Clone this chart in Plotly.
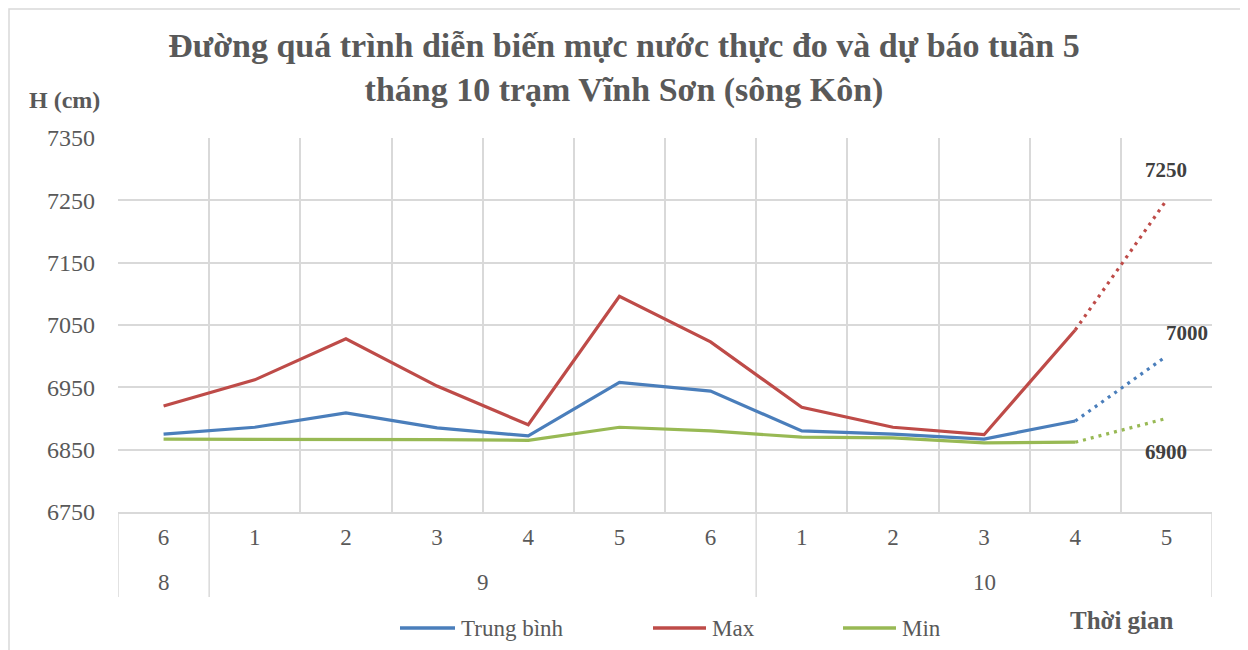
import plotly.graph_objects as go

months = ["8", "9", "10"]
month_span = [(0, 0), (1, 6), (7, 11)]  # index range of each month group
weeks = ["6", "1", "2", "3", "4", "5", "6", "1", "2", "3", "4", "5"]
trung_binh = [6875, 6886, 6909, 6885, 6872, 6958, 6944, 6880, 6875, 6867, 6896, 7000]
max_vals = [6920, 6962, 7028, 6952, 6890, 7096, 7023, 6918, 6886, 6874, 7042, 7250]
min_vals = [6867, 6867, 6867, 6866, 6865, 6886, 6880, 6870, 6869, 6861, 6862, 6900]
n_obs = 11  # observed points; last point is forecast

names = ["Trung bình", "Max", "Min"]
colors = ["#4A7EBB", "#BE4B48", "#98B954"]
series = [trung_binh, max_vals, min_vals]
label_shift = [(21, 23), (0, 30), (0, -33)]  # (xshift, yshift) px for forecast labels

FONT = "Liberation Serif"
GRID = "#D9D9D9"
TXT = "#595959"

W, H = 1248, 650
OFF = 8  # page body margin
# plot area in screen coordinates
SX0, SX1, SY0, SY1 = 118, 1212, 138, 512
L, R, T, B = SX0 - OFF, W - (SX1 - OFF), SY0 - OFF, H - (SY1 - OFF)
PW, PH = SX1 - SX0, SY1 - SY0


def px(xs_):
    return (xs_ - SX0) / PW


def py(ys_):
    return (SY1 - ys_) / PH


xs = list(range(len(weeks)))

fig = go.Figure()
for name, col, vals in zip(names, colors, series):
    fig.add_trace(go.Scatter(
        x=xs[:n_obs], y=vals[:n_obs], mode="lines", name=name,
        line=dict(color=col, width=3.2), showlegend=False,
    ))
for name, col, vals, (dx, dy) in zip(names, colors, series, label_shift):
    fig.add_trace(go.Scatter(
        x=xs[n_obs - 1:], y=vals[n_obs - 1:], mode="lines", showlegend=False,
        name=name + " (dự báo)", line=dict(color=col, width=3.2, dash="3px,5px"),
    ))
    fig.add_annotation(x=xs[-1], y=vals[-1], text="<b>%d</b>" % vals[-1],
                       showarrow=False, xshift=dx, yshift=dy,
                       font=dict(family=FONT, size=21, color="#404040"))

fig.update_layout(
    width=W, height=H,
    margin=dict(l=L, r=R, t=T, b=B, autoexpand=False),
    paper_bgcolor="white", plot_bgcolor="white",
    font=dict(family=FONT, size=23, color=TXT),
    title=dict(
        text="<b>Đường quá trình diễn biến mực nước thực đo và dự báo tuần 5<br>tháng 10 trạm Vĩnh Sơn (sông Kôn)</b>",
        x=(624 - OFF) / W, xanchor="center", y=1 - 49 / H, yanchor="top",
        font=dict(family=FONT, size=34, color=TXT),
    ),
    xaxis=dict(
        range=[-0.5, len(weeks) - 0.5], tickvals=xs, ticktext=weeks,
        showgrid=False, zeroline=False, ticks="",
        showline=True, linecolor=GRID, linewidth=1.5,
        minor=dict(tickvals=[i - 0.5 for i in range(len(weeks) + 1)],
                   showgrid=True, gridcolor=GRID, gridwidth=1.5, ticks=""),
        tickfont=dict(family=FONT, size=23, color=TXT),
        ticklabelstandoff=4, automargin=False,
    ),
    yaxis=dict(
        range=[6750, 7350], tick0=6750, dtick=100, showgrid=True,
        gridcolor=GRID, gridwidth=1.5, zeroline=False, showline=False,
        tickfont=dict(family=FONT, size=24, color=TXT),
        ticklabelstandoff=22, automargin=False,
    ),
    showlegend=False,
)

# month level labels and dividers
for m, (a, b) in zip(months, month_span):
    fig.add_annotation(text=m, x=(a + b) / 2, xref="x", y=py(582), yref="paper",
                       showarrow=False, yanchor="middle",
                       font=dict(family=FONT, size=23, color=TXT))
bounds = sorted({a - 0.5 for a, b in month_span} | {b + 0.5 for a, b in month_span})
for bx in bounds:
    fig.add_shape(type="line", xref="x", yref="paper", x0=bx, x1=bx,
                  y0=0, y1=py(597), line=dict(color=GRID, width=1.5))

# legend (drawn manually to match spacing)
leg_x = [(400, 455), (653, 706), (843, 896)]
for name, col, (x0, x1) in zip(names, colors, leg_x):
    fig.add_shape(type="line", xref="paper", yref="paper", x0=px(x0), x1=px(x1),
                  y0=py(628), y1=py(628), line=dict(color=col, width=3.5))
    fig.add_annotation(text=name, xref="paper", yref="paper", x=px(x1 + 4),
                       y=py(628), xanchor="left", yanchor="middle", showarrow=False,
                       font=dict(family=FONT, size=23, color=TXT))

fig.add_annotation(text="<b>H (cm)</b>", xref="paper", yref="paper",
                   x=px(27), y=py(100), xanchor="left", yanchor="middle",
                   showarrow=False, font=dict(family=FONT, size=24, color=TXT))
fig.add_annotation(text="<b>Thời gian</b>", xref="paper", yref="paper",
                   x=px(1122), y=py(620), xanchor="center", yanchor="middle",
                   showarrow=False, font=dict(family=FONT, size=25, color=TXT))
fig.add_shape(type="rect", xref="paper", yref="paper",
              x0=px(9), x1=px(1241), y0=py(665), y1=py(9),
              line=dict(color=GRID, width=1.5), layer="below")

fig.write_html("out.html")
